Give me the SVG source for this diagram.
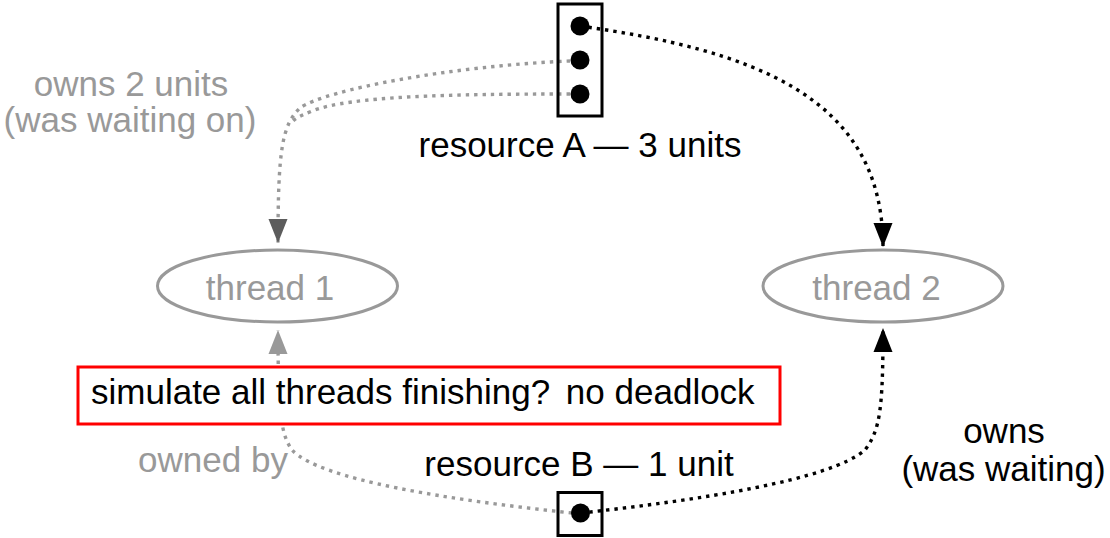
<svg xmlns="http://www.w3.org/2000/svg" width="1110" height="538" viewBox="0 0 1110 538">
<style>
text{font-family:"Liberation Sans",Arial,sans-serif;font-size:35px}
.blk{fill:#000}
.gry{fill:#999}
.mid{text-anchor:middle}
.dotb{fill:none;stroke:#000;stroke-width:3.4;stroke-dasharray:3.4 5}
.dotg{fill:none;stroke:#999;stroke-width:3.4;stroke-dasharray:3.4 5}
.res{fill:none;stroke:#000;stroke-width:3}
.thr{fill:#fff;stroke:#999;stroke-width:3}
</style>
<defs>
<marker id="ab" markerUnits="userSpaceOnUse" markerWidth="26" markerHeight="22" viewBox="0 -11 26 22" refX="24" refY="0" orient="auto"><path d="M0,-9.5 L24,0 L0,9.5 z" fill="#000"/></marker>
<marker id="ag" markerUnits="userSpaceOnUse" markerWidth="26" markerHeight="22" viewBox="0 -11 26 22" refX="24" refY="0" orient="auto"><path d="M0,-9.5 L24,0 L0,9.5 z" fill="#999"/></marker>
<marker id="ad" markerUnits="userSpaceOnUse" markerWidth="26" markerHeight="22" viewBox="0 -11 26 22" refX="24" refY="0" orient="auto"><path d="M0,-9.5 L24,0 L0,9.5 z" fill="#5c5c5c"/></marker>
</defs>
<g id="connectors">
<path class="dotg" d="M570 94 C450 94 350 96 312 111 C300 116 296 118 293 121"/>
<path class="dotg" d="M570 61 C450 66 325 90 300 108 C282 125 278 150 278 243" marker-end="url(#ad)"/>
<path class="dotb" d="M580 26 C750 50 883 95 883 247" marker-end="url(#ab)"/>
<path class="dotg" d="M572 513 C450 500 320 480 292 450 C282 435 278 420 278 330" marker-end="url(#ag)"/>
<path class="dotb" d="M581 513 C700 500 830 480 865 450 C880 430 883 410 883 328" marker-end="url(#ab)"/>
</g>
<g id="resourceA">
<rect class="res" x="558" y="4" width="44" height="112"/>
<circle cx="580" cy="26" r="9.5"/>
<circle cx="580" cy="60" r="9.5"/>
<circle cx="580" cy="94" r="9.5"/>
<text class="blk mid" x="580" y="157">resource A — 3 units</text>
</g>
<g id="resourceB">
<rect class="res" x="558" y="492.5" width="44" height="43"/>
<circle cx="580.5" cy="513" r="9.5"/>
<text class="blk mid" x="579" y="476">resource B — 1 unit</text>
</g>
<g id="thread1">
<ellipse class="thr" cx="277.5" cy="286" rx="120" ry="36"/>
<text class="gry mid" x="270" y="300">thread 1</text>
</g>
<g id="thread2">
<ellipse class="thr" cx="883" cy="286" rx="120" ry="36"/>
<text class="gry mid" x="876.5" y="300">thread 2</text>
</g>
<g id="note">
<rect x="78" y="367" width="702" height="57" fill="#fff" stroke="#f00" stroke-width="3"/>
<text class="blk" x="91" y="404">simulate all threads finishing?<tspan dx="6"> no deadlock</tspan></text>
</g>
<g id="labels">
<text class="gry mid" x="131" y="96">owns 2 units</text>
<text class="gry mid" x="130" y="132">(was waiting on)</text>
<text class="gry mid" x="213" y="472">owned by</text>
<text class="blk mid" x="1004" y="443">owns</text>
<text class="blk mid" x="1003.5" y="481">(was waiting)</text>
</g>
</svg>
